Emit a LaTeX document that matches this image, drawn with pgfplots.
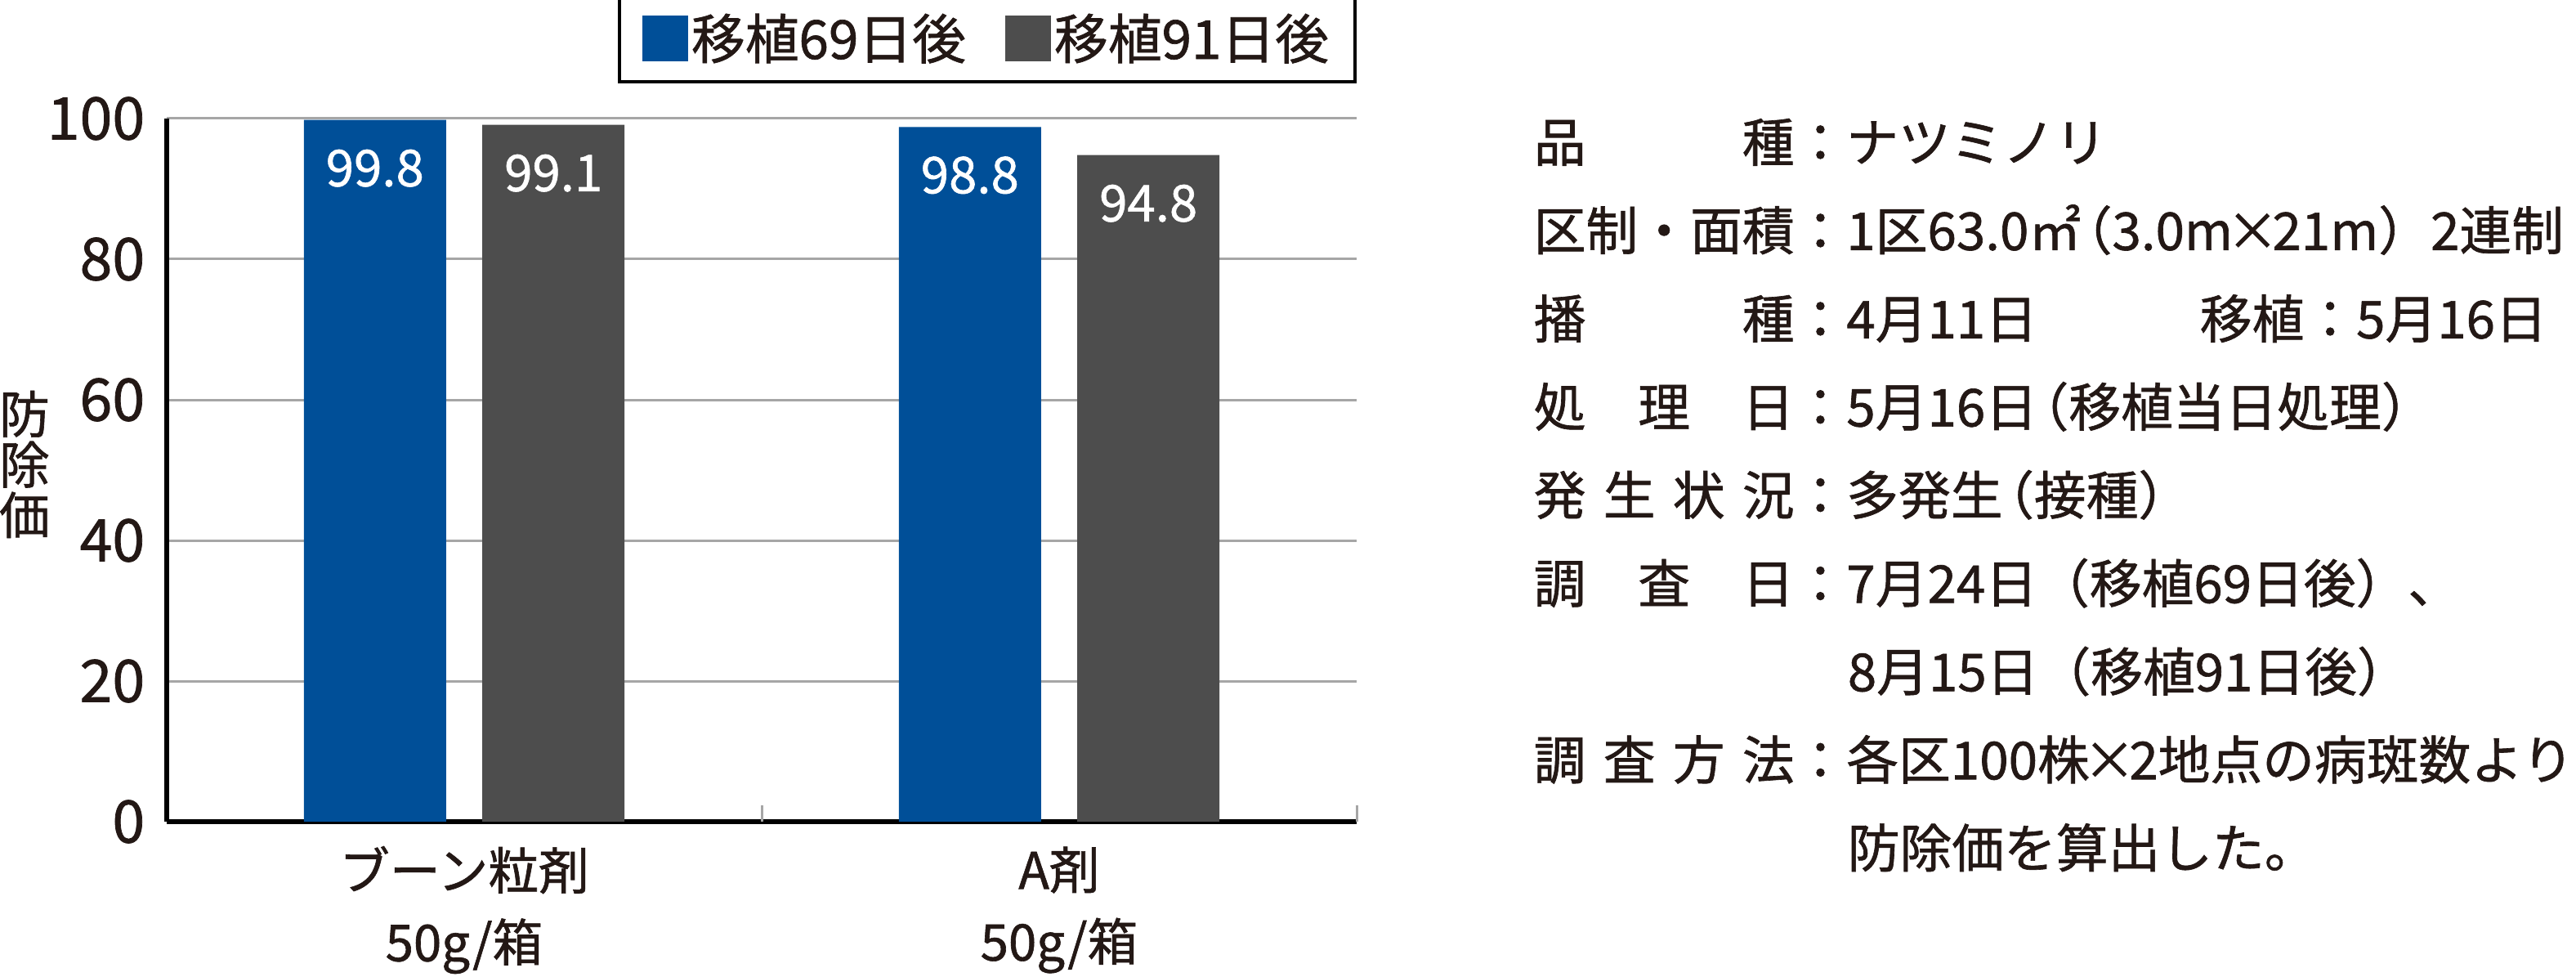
\documentclass[border=0pt]{standalone}
\usepackage{fontspec}
\setmainfont{Noto Sans CJK JP}[FakeBold=1]
\usepackage{pgfplots}
\pgfplotsset{compat=1.18}

\definecolor{blueA}{HTML}{004F98}
\definecolor{grayB}{HTML}{4D4D4D}
\definecolor{gridc}{HTML}{A6A6A6}
\definecolor{txt}{HTML}{231815}

% label column of the notes: 5 em wide, characters spread out
\newcommand\lab[1]{\makebox[5em][s]{#1}：}
% tight opening paren
\newcommand\op{\kern-0.4em（}

\begin{document}
\color{txt}
\begin{tikzpicture}[
    tb/.style={anchor=west, inner sep=0pt, font=\fontsize{16}{16}\selectfont,
      text height=12.2bp, text depth=0pt},
  ]
  \path[use as bounding box] (-51bp,-47.5bp) rectangle (737bp,251.25bp);
  \begin{axis}[
      at={(0,0)}, anchor=south west,
      width=364bp, height=215bp, scale only axis,
      xmin=-0.5, xmax=1.5, ymin=0, ymax=100,
      axis lines*=left,
      axis line style={black, line width=1.5bp},
      ybar, bar width=0.239,
      ytick={0,20,40,60,80,100},
      ymajorgrids,
      grid style={gridc, line width=0.75bp},
      major tick length=0pt,
      xtick={0,1},
      xticklabels={{ブーン粒剤\\50g/箱},{A剤\\50g/箱}},
      extra x ticks={0.5,1.5},
      extra x tick labels={},
      extra x tick style={major tick length=5bp, tick align=inside,
        tick style={gridc, line width=0.75bp}},
      /pgf/number format/assume math mode=true,
      yticklabel style={font=\fontsize{18}{18}\selectfont, inner sep=0pt,
        anchor=east, xshift=-6.5bp},
      xticklabel style={font=\fontsize{15.5}{22}\selectfont, align=center,
        anchor=center, inner sep=0pt, yshift=-27bp},
      ylabel={防\\除\\価},
      every axis y label/.style={at={(axis description cs:0,0.5)},
        anchor=center, xshift=-43.5bp, yshift=1.75bp, align=center,
        font=\fontsize{15.5}{15.5}\selectfont},
      nodes near coords,
      every node near coord/.append style={text=white,
        font=\fontsize{15.5}{15.5}\selectfont, anchor=center, yshift=-14.75bp},
      legend columns=2,
      legend style={at={(rel axis cs:1,1)}, anchor=south east, yshift=10.75bp,
        draw=black, line width=1bp, font=\fontsize{16.5}{16.5}\selectfont,
        inner xsep=7bp, inner ysep=4.5bp, nodes={inner sep=1bp},
        /tikz/every even column/.append style={column sep=11bp}},
    ]
    \addplot[fill=blueA, draw=none, bar shift=-0.15,
      legend image code/.code={\fill[blueA] (0bp,-7bp) rectangle (14bp,7bp);}]
      coordinates {(0,99.8) (1,98.8)};
    \addplot[fill=grayB, draw=none, bar shift=0.15,
      legend image code/.code={\fill[grayB] (0bp,-7bp) rectangle (14bp,7bp);}]
      coordinates {(0,99.1) (1,94.8)};
    \legend{移植69日後,移植91日後}
  \end{axis}

  % notes on the right
  \node[tb] at (418bp,207.9bp) {\lab{品\hfill 種}ナツミノリ};
  \node[tb] at (418bp,180.9bp) {\lab{区制・面積}1区63.0㎡\op 3.0m\kern-0.12em×\kern-0.12em21m）2連制};
  \node[tb] at (418bp,153.9bp) {\lab{播\hfill 種}4月11日};
  \node[tb] at (621.75bp,153.9bp) {移植：5月16日};
  \node[tb] at (418bp,126.95bp) {\lab{処\hfill 理\hfill 日}5月16日\op 移植当日処理）};
  \node[tb] at (418bp,99.98bp) {\lab{発\hfill 生\hfill 状\hfill 況}多発生\op 接種）};
  \node[tb] at (418bp,73bp) {\lab{調\hfill 査\hfill 日}7月24日（移植69日後）、};
  \node[tb] at (514bp,46bp) {8月15日（移植91日後）};
  \node[tb] at (418bp,19.05bp) {\lab{調\hfill 査\hfill 方\hfill 法}各区100株\kern-0.12em×\kern-0.12em2地点の病斑数より};
  \node[tb] at (514bp,-7.9bp) {防除価を算出した。};
\end{tikzpicture}
\end{document}
